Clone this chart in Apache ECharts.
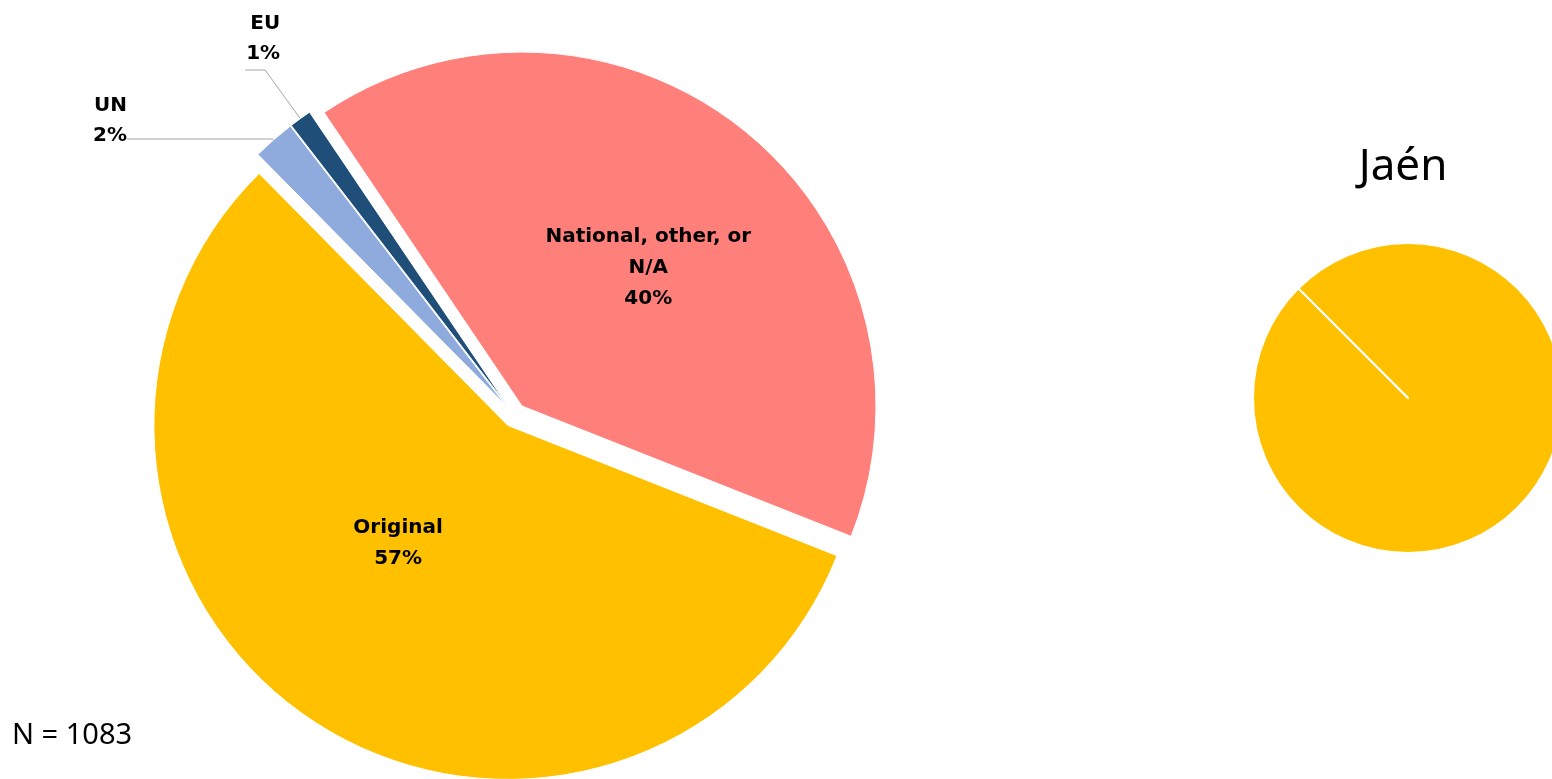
<!DOCTYPE html>
<html>
<head>
<meta charset="utf-8">
<script src="https://cdn.jsdelivr.net/npm/echarts@6/dist/echarts.min.js"></script>
<style>
html,body{margin:0;padding:0;background:#fff;}
#chart{width:1552px;height:779px;}
</style>
</head>
<body>
<div id="chart"></div>
<script>
// ---- data ----
const categories = ['National, other, or N/A', 'Original', 'UN', 'EU'];
const labelNames = ['National, other, or\nN/A', 'Original', 'UN', 'EU'];
const allValues = [438, 613, 21, 11];      // N = 1083
const jaenValues = [0, 100, 0, 0];          // Jaén: all Original
const sampleLabel = 'N = 1083';
const regionTitle = 'Jaén';

// ---- styles ----
const sliceColors = ['#FF7F7B', '#FFC000', '#8FAADC', '#1F4E79'];
const FONT = '"Noto Sans", "DejaVu Sans", sans-serif';
const LABEL_FONT = '"DejaVu Sans", "Noto Sans", sans-serif';

// per-label nudges (padding shifts horizontally, spacer line shifts vertically)
const labelTweaks = {
  'National, other, or N/A': { position: 'inside', lineHeight: 31, padding: [0, 0, 0, 27], top: 5 },
  'Original': { position: 'inside', lineHeight: 31, padding: [0, 21, 0, 0], bottom: 64 },
  'UN': { position: 'outside', lineHeight: 30, distanceToLabelLine: 0, padding: [0, 0, 0, 0], bottom: 37 },
  'EU': { position: 'outside', lineHeight: 30, distanceToLabelLine: 0, padding: [0, -35, 0, 0], bottom: 63 }
};
const lineTweaks = {
  'UN': { length: 1, length2: 146 },
  'EU': { length: 60, length2: 20 }
};

const mainData = categories.map((name, i) => {
  const t = labelTweaks[name];
  return {
    name: name,
    value: allValues[i],
    selected: true,
    itemStyle: { color: sliceColors[i] },
    label: {
      position: t.position,
      lineHeight: t.lineHeight,
      padding: t.padding,
      distanceToLabelLine: t.distanceToLabelLine,
      rich: {
        top: { lineHeight: t.top || 1, fontSize: 1 },
        bot: { lineHeight: t.bottom || 1, fontSize: 1 }
      }
    },
    labelLine: Object.assign({ show: !!lineTweaks[name] }, lineTweaks[name] || {})
  };
});

const jaenData = categories.map((name, i) => ({
  name: name,
  value: jaenValues[i],
  itemStyle: { color: sliceColors[i] }
}));

const chart = echarts.init(document.getElementById('chart'), null, { renderer: 'canvas' });
chart.setOption({
  animation: false,
  backgroundColor: '#ffffff',
  title: [
    {
      text: regionTitle,
      left: 1398, top: 140, textAlign: 'center',
      textStyle: { fontFamily: FONT, fontSize: 44, fontWeight: 'normal', color: '#000' }
    },
    {
      text: sampleLabel,
      left: 7, top: 716,
      textStyle: { fontFamily: FONT, fontSize: 29, fontWeight: 'normal', color: '#000' }
    }
  ],
  series: [
    {
      type: 'pie',
      center: [514.5, 415.4],
      radius: [0, 354],
      startAngle: 124,
      clockwise: true,
      selectedMode: 'multiple',
      selectedOffset: 12,
      avoidLabelOverlap: false,
      silent: true,
      itemStyle: { borderColor: '#ffffff', borderWidth: 1 },
      label: {
        show: true,
        color: '#000',
        fontFamily: LABEL_FONT,
        fontSize: 20,
        fontWeight: 'bold',
        formatter: p => {
          const t = labelTweaks[p.name];
          const txt = labelNames[p.dataIndex] + '\n' + Math.round(p.percent) + '%';
          return (t.top ? '{top| }\n' : '') + txt + (t.bottom ? '\n{bot| }' : '');
        }
      },
      labelLine: {
        show: true,
        lineStyle: { color: '#A6A6A6', width: 1 }
      },
      emphasis: { disabled: true },
      data: mainData
    },
    {
      type: 'pie',
      center: [1408, 398],
      radius: [0, 155],
      startAngle: 135,
      clockwise: true,
      silent: true,
      itemStyle: { borderColor: '#ffffff', borderWidth: 2 },
      label: { show: false },
      labelLine: { show: false },
      emphasis: { disabled: true },
      data: jaenData
    }
  ]
});
</script>
</body>
</html>
